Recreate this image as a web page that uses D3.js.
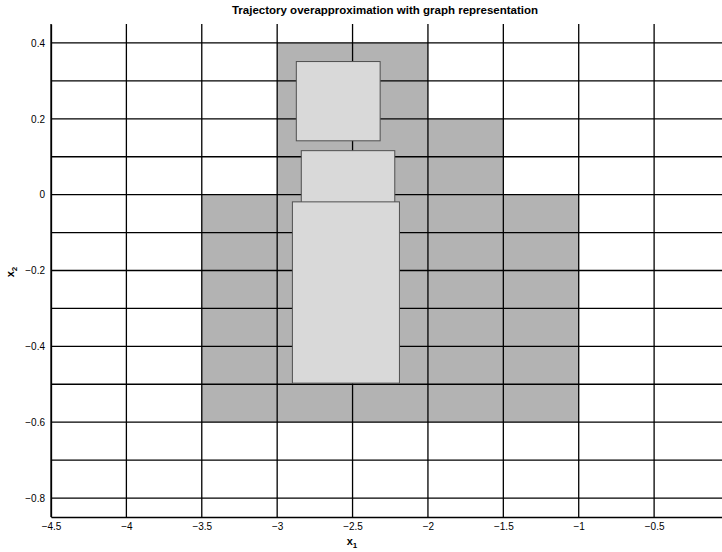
<!DOCTYPE html>
<html>
<head>
<meta charset="utf-8">
<script src="https://cdn.jsdelivr.net/npm/d3@7"></script>
<style>
  body { margin: 0; background: #fff; }
  svg { display: block; font-family: "Liberation Sans", Arial, sans-serif; }
  .tick text { font-size: 10px; fill: #000; }
</style>
</head>
<body>
<div id="chart"></div>
<script>
// chart values
var xTicks = [-4.5, -4, -3.5, -3, -2.5, -2, -1.5, -1, -0.5];
var yTicks = [0.4, 0.2, 0, -0.2, -0.4, -0.6, -0.8];
var gridX = [-4.5, -4, -3.5, -3, -2.5, -2, -1.5, -1, -0.5, 0];
var gridY = [0.4, 0.3, 0.2, 0.1, 0, -0.1, -0.2, -0.3, -0.4, -0.5, -0.6, -0.7, -0.8];

// graph cells (dark gray), as x and y ranges
var cellX0 = [-3, -3, -3.5];
var cellX1 = [-2, -1.5, -1];
var cellY0 = [0.2, 0, -0.6];
var cellY1 = [0.4, 0.2, 0];

// trajectory boxes (light gray)
var boxX0 = [-2.873, -2.840, -2.899];
var boxX1 = [-2.317, -2.220, -2.189];
var boxY0 = [0.142, -0.06, -0.497];
var boxY1 = [0.351, 0.116, -0.019];

var svgWidth = 722, svgHeight = 552;
var margin = { top: 24, left: 51, bottom: 35 };

var svg = d3.select("#chart").append("svg")
    .attr("width", svgWidth)
    .attr("height", svgHeight);

//scales
var x = d3.scaleLinear().domain([-4.5, 0]).range([margin.left, 729.5]);
var y = d3.scaleLinear().domain([-0.85, 0.45]).range([svgHeight - margin.bottom, margin.top]);

var cells = cellX0.map(function(d, i) {
  return { x0: d, x1: cellX1[i], y0: cellY0[i], y1: cellY1[i] };
});
var boxes = boxX0.map(function(d, i) {
  return { x0: d, x1: boxX1[i], y0: boxY0[i], y1: boxY1[i] };
});

//gray cells
svg.append("g").selectAll("rect")
  .data(cells)
  .enter().append("rect")
  .attr("x", d => x(d.x0))
  .attr("y", d => y(d.y1))
  .attr("width", d => x(d.x1) - x(d.x0))
  .attr("height", d => y(d.y0) - y(d.y1))
  .attr("fill", "#b3b3b3");

//grid lines
var grid = svg.append("g").attr("stroke", "#000").attr("stroke-width", 1.3);
grid.selectAll(".vl").data(gridX).enter().append("line")
  .attr("class", "vl")
  .attr("x1", d => x(d)).attr("x2", d => x(d))
  .attr("y1", y(-0.85)).attr("y2", y(0.45));
grid.selectAll(".hl").data(gridY).enter().append("line")
  .attr("class", "hl")
  .attr("y1", d => y(d)).attr("y2", d => y(d))
  .attr("x1", x(-4.5)).attr("x2", x(0));

//trajectory boxes
svg.append("g").selectAll("rect")
  .data(boxes)
  .enter().append("rect")
  .attr("x", d => x(d.x0))
  .attr("y", d => y(d.y1))
  .attr("width", d => x(d.x1) - x(d.x0))
  .attr("height", d => y(d.y0) - y(d.y1))
  .attr("fill", "#d9d9d9")
  .attr("stroke", "#505050")
  .attr("stroke-width", 1);

//axes
var bottomAxis = d3.axisBottom(x).tickValues(xTicks).tickSize(0).tickPadding(6)
  .tickFormat(d3.format(""));
var leftAxis = d3.axisLeft(y).tickValues(yTicks).tickSize(0).tickPadding(6)
  .tickFormat(d3.format(""));

var gx = svg.append("g")
  .attr("transform", `translate(0, ${svgHeight - margin.bottom})`)
  .call(bottomAxis);
var gy = svg.append("g")
  .attr("transform", `translate(${margin.left}, 0)`)
  .call(leftAxis);
[gx, gy].forEach(function(g) {
  g.select(".domain").attr("stroke", "#000").attr("stroke-width", 1.3);
  g.selectAll("text").style("font-family", "'Liberation Sans', Arial, sans-serif");
});

//title
svg.append("text")
  .attr("x", 385)
  .attr("y", 14)
  .attr("text-anchor", "middle")
  .style("font-size", "11.5px")
  .style("font-weight", "bold")
  .text("Trajectory overapproximation with graph representation");

//x label
var xl = svg.append("text")
  .attr("x", 352)
  .attr("y", 545)
  .attr("text-anchor", "middle")
  .style("font-size", "11px")
  .style("font-weight", "bold");
xl.append("tspan").text("x");
xl.append("tspan").attr("dy", 3).style("font-size", "8px").text("1");

//y label
var yl = svg.append("text")
  .attr("transform", "translate(14, 272) rotate(-90)")
  .attr("text-anchor", "middle")
  .style("font-size", "11px")
  .style("font-weight", "bold");
yl.append("tspan").text("x");
yl.append("tspan").attr("dy", 3).style("font-size", "8px").text("2");
</script>
</body>
</html>
